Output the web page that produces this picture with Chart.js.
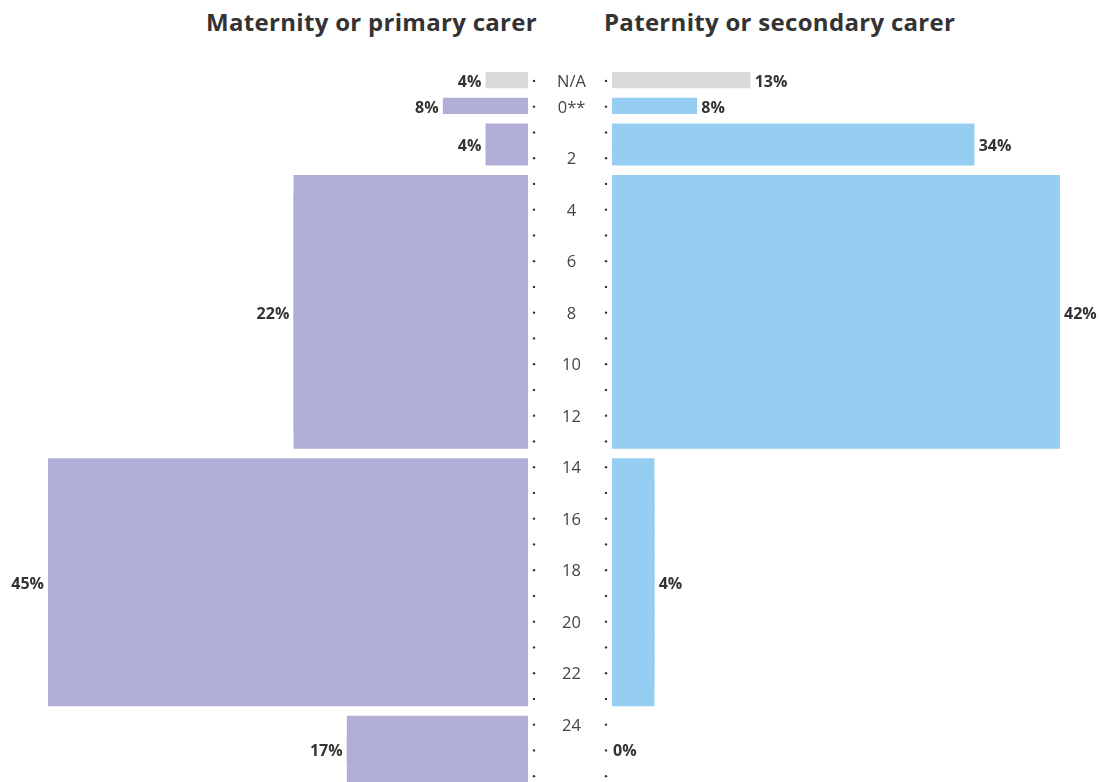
<!DOCTYPE html>
<html>
<head>
<meta charset="utf-8">
<script src="https://cdn.jsdelivr.net/npm/chart.js@4/dist/chart.umd.min.js"></script>
<style>
  body { margin: 0; background: #fff; overflow: hidden; font-family: "Open Sans", sans-serif; }
  #wrap { position: relative; width: 1101px; height: 782px; overflow: hidden; }
  .title { position: absolute; top: 7px; font-size: 24px; font-weight: 700; color: #333; line-height: 30px; white-space: nowrap; letter-spacing: 0.3px; }
  #title-left { right: 564px; }
  #title-right { left: 604px; }
  canvas { position: absolute; top: 0; }
</style>
</head>
<body>
<div id="wrap">
  <div class="title" id="title-left">Maternity or primary carer</div>
  <div class="title" id="title-right">Paternity or secondary carer</div>
  <canvas id="left-chart" width="540" height="800" style="left:0"></canvas>
  <canvas id="right-chart" width="573" height="800" style="left:528px"></canvas>
</div>
<script>
// weeks of leave (rows of the chart)
const rowLabels = ['N/A', '0**', '1', '2', '3', '4', '5', '6', '7', '8', '9', '10', '11', '12', '13',
  '14', '15', '16', '17', '18', '19', '20', '21', '22', '23', '24', '25', '26'];
// rows that get a visible label in the middle column (26 is cut off at the bottom)
const shownTicks = ['N/A', '0**', '2', '4', '6', '8', '10', '12', '14', '16', '18', '20', '22', '24'];

// each group covers a range of rows
const groupFirst = ['N/A', '0**', '1', '3', '14', '24'];
const groupLast = ['N/A', '0**', '2', '13', '23', '26'];
const primaryPct = [4, 8, 4, 22, 45, 17];
const secondaryPct = [13, 8, 34, 42, 4, 0];

const naColor = '#d9d9d9';
const primaryColor = '#b0aed6';
const secondaryColor = '#96cdf2';
const PX_PER_PCT = 10.667;
const FONT = '"Open Sans", sans-serif';

// row index -> group index
const rowGroup = rowLabels.map((lbl, i) => {
  return groupFirst.findIndex((f, g) => i >= rowLabels.indexOf(f) && i <= rowLabels.indexOf(groupLast[g]));
});

function rowData(values) {
  return rowGroup.map(g => values[g]);
}

// gaps between groups come from a transparent border on the group's first / last row
function barBorder(ctx) {
  const g = rowGroup[ctx.dataIndex];
  const label = rowLabels[ctx.dataIndex];
  return {
    top: label === groupFirst[g] ? 4.5 : 0,
    bottom: label === groupLast[g] ? 6 : 0,
    left: 0,
    right: 0
  };
}

// percentage labels + little dots next to the week labels
function makeLabelPlugin(side, values) {
  return {
    id: 'pctLabels' + side,
    afterDatasetsDraw(chart) {
      const ctx = chart.ctx;
      const meta = chart.getDatasetMeta(0);
      const yScale = chart.scales.y;
      const area = chart.chartArea;
      ctx.save();
      // dots
      ctx.fillStyle = '#333';
      rowLabels.forEach((lbl, i) => {
        const y = yScale.getPixelForValue(i);
        const x = side === 'left' ? area.right + 6 : area.left - 6;
        ctx.beginPath();
        ctx.arc(x, y, 1.2, 0, Math.PI * 2);
        ctx.fill();
      });
      // values
      ctx.font = 'bold 16px ' + FONT;
      ctx.fillStyle = '#333';
      ctx.textBaseline = 'middle';
      values.forEach((v, g) => {
        const first = meta.data[rowLabels.indexOf(groupFirst[g])];
        const last = meta.data[rowLabels.indexOf(groupLast[g])];
        const y = (first.y + last.y) / 2 + 1.5;
        if (side === 'left') {
          ctx.textAlign = 'right';
          ctx.fillText(v + '%', first.x - 4, y);
        } else {
          ctx.textAlign = 'left';
          ctx.fillText(v + '%', first.x + (v === 0 ? 1 : 4), y);
        }
      });
      ctx.restore();
    }
  };
}

function baseOptions(reverse, maxPct, padRight) {
  return {
    responsive: false,
    animation: false,
    indexAxis: 'y',
    layout: { padding: { top: 68, bottom: 11, left: 0, right: padRight } },
    plugins: { legend: { display: false }, tooltip: { enabled: false } },
    datasets: {
      bar: { barPercentage: 1.04, categoryPercentage: 1, inflateAmount: 0 }
    },
    scales: {
      x: { display: false, min: 0, max: maxPct, reverse: reverse },
      y: { display: false, type: 'category', labels: rowLabels, offset: true }
    }
  };
}

const leftOptions = baseOptions(true, 528 / PX_PER_PCT, 12);
new Chart(document.getElementById('left-chart'), {
  type: 'bar',
  data: {
    labels: rowLabels,
    datasets: [{
      data: rowData(primaryPct),
      backgroundColor: ctx => rowLabels[ctx.dataIndex] === 'N/A' ? naColor : primaryColor,
      borderColor: 'rgba(0,0,0,0)',
      borderWidth: barBorder,
      borderSkipped: false
    }]
  },
  options: leftOptions,
  plugins: [makeLabelPlugin('left', primaryPct)]
});

const rightOptions = baseOptions(false, 489 / PX_PER_PCT, 0);
rightOptions.scales.y = {
  display: true,
  type: 'category',
  labels: rowLabels,
  offset: true,
  position: 'left',
  grid: { display: false, drawTicks: false },
  border: { display: false },
  afterFit: scale => {
    scale.width = 84;
    scale.paddingTop = 0;
    scale.paddingBottom = 0;
  },
  ticks: {
    autoSkip: false,
    crossAlign: 'center',
    padding: 26,
    labelOffset: 1.5,
    color: '#444',
    font: { family: FONT, size: 16.5 },
    callback: function(value) {
      const lbl = this.getLabelForValue(value);
      return shownTicks.includes(lbl) ? lbl : '';
    }
  }
};
new Chart(document.getElementById('right-chart'), {
  type: 'bar',
  data: {
    labels: rowLabels,
    datasets: [{
      data: rowData(secondaryPct),
      backgroundColor: ctx => rowLabels[ctx.dataIndex] === 'N/A' ? naColor : secondaryColor,
      borderColor: 'rgba(0,0,0,0)',
      borderWidth: barBorder,
      borderSkipped: false
    }]
  },
  options: rightOptions,
  plugins: [makeLabelPlugin('right', secondaryPct)]
});
</script>
</body>
</html>
